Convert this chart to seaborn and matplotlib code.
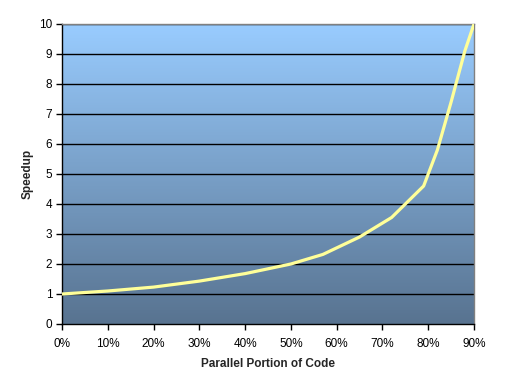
import numpy as np
import pandas as pd
import matplotlib
matplotlib.use("Agg")
import matplotlib.pyplot as plt
import seaborn as sns
from matplotlib.colors import LinearSegmentedColormap

# Data
parallel_pct = [0, 10, 20, 30, 40, 50, 57, 65, 72, 79, 82, 85, 88, 90]
speedup = [1.0, 1.1, 1.23, 1.43, 1.68, 2.0, 2.32, 2.9, 3.55, 4.6, 5.8, 7.4, 9.1, 10.0]
x_tick_labels = ["0%", "10%", "20%", "30%", "40%", "50%", "60%", "70%", "80%", "90%"]
y_ticks = list(range(0, 11))

df = pd.DataFrame({"p": parallel_pct, "s": speedup})

sns.set_theme(style="white")
plt.rcParams["font.family"] = ["Liberation Sans", "DejaVu Sans"]

fig = plt.figure(figsize=(5.09, 3.90), dpi=100)
ax = fig.add_axes([62/509, 66/390, (474-62)/509, (324-24)/390])

# gradient background
cmap = LinearSegmentedColormap.from_list("bg", ["#99CCFF", "#587390"])
grad = np.linspace(0, 1, 256).reshape(-1, 1)
ax.imshow(grad, extent=[0, 1, 0, 1], transform=ax.transAxes, aspect="auto",
          cmap=cmap, zorder=0, origin="upper")

for yv in y_ticks[1:]:
    ax.axhline(yv, color="black", lw=1.0, zorder=1)

sns.lineplot(data=df, x="p", y="s", ax=ax, color="#FFFF99", lw=2.3, zorder=3)

ax.set_xlim(0, 90)
ax.set_ylim(0, 10)
ax.set_xticks(range(0, 91, 10))
ax.set_xticklabels(x_tick_labels)
ax.set_yticks(y_ticks)
ax.tick_params(axis="both", which="major", direction="out", length=4, width=1,
               color="black", labelsize=8.5, pad=3, labelcolor="black")
ax.tick_params(axis="x", pad=6)
ax.tick_params(bottom=True, left=True)

for side in ["left", "bottom"]:
    ax.spines[side].set_color("black")
    ax.spines[side].set_linewidth(1)
for side in ["top", "right"]:
    ax.spines[side].set_color("#808080")
    ax.spines[side].set_linewidth(1)

ax.set_xlabel("Parallel Portion of Code", fontsize=8.5, fontweight="bold", labelpad=6)
ax.set_ylabel("Speedup", fontsize=8.5, fontweight="bold", labelpad=4)
ax.grid(False)

fig.savefig("out.png", dpi=100)
